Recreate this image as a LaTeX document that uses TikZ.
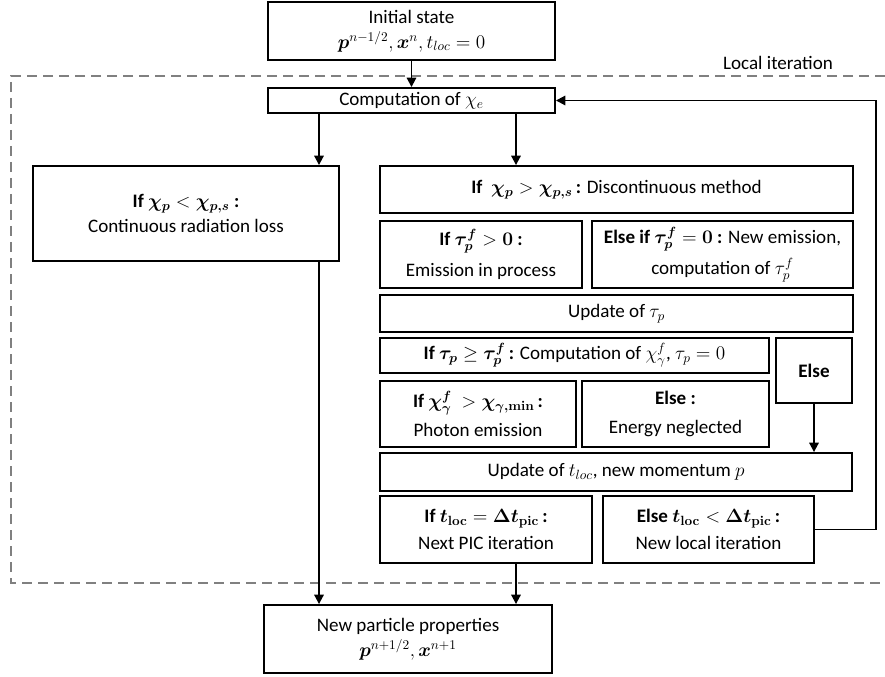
\documentclass[tikz,border=0pt]{standalone}
\usepackage{amsmath}
\usepackage{bm}
\usepackage{fontspec}
\setmainfont{Carlito}
\usetikzlibrary{arrows.meta,calc}

\begin{document}
\begin{tikzpicture}[
  x=0.75pt, y=-0.75pt,
  font=\fontsize{14.3}{18.5}\selectfont,
  box/.style={draw, line width=1.4pt, align=center, inner sep=1pt, fill=white},
  sz/.style 2 args={minimum width=#1*0.75pt, minimum height=#2*0.75pt},
  arr/.style={-{Triangle[length=7pt, width=7pt]}, line width=1.4pt},
  frame/.style={gray, line width=1.5pt, dash pattern=on 7.5pt off 4.5pt}]
  \useasboundingbox (0,0) rectangle (885,677);
  % local iteration frame
  \draw[frame] (885,76) -- (11,76) -- (11,583) -- (885,583);
  \node (loc) at (778,63) {Local iteration};
  \node[box, sz={287}{58}] (init) at (411.5,31) {Initial state\\$\bm{p}^{n-1/2},\bm{x}^n,t_{loc}=0$};
  \node[box, sz={287}{25}] (comp) at (411.5,100.5) {Computation of $\chi_e$};
  \node[box, sz={306}{95}] (cont) at (186,213.5) {\textbf{If} $\bm{\chi_p}<\bm{\chi_{p,s}}$ \textbf{:}\\Continuous radiation loss};
  \node[box, sz={473}{47}] (disc) at (616.5,189.5) {\textbf{If} \ $\bm{\chi_p}>\bm{\chi_{p,s}}$\,\textbf{:} Discontinuous method};
  \node[box, sz={202}{67}] (inproc) at (481,254.5) {\textbf{If} $\bm{\tau_p^f}>\bm{0}$ \textbf{:}\\[5pt]Emission in process};
  \node[box, sz={261}{67}] (newem) at (722.5,254.5) {\textbf{Else if} $\bm{\tau_p^f}=\bm{0}$ \textbf{:} New emission,\\[5pt]computation of $\tau_p^f$};
  \node[box, sz={473}{37}] (updtau) at (616.5,313.5) {Update of $\tau_p$};
  \node[box, sz={389}{35}] (iftau) at (574.5,355.5) {\textbf{If} $\bm{\tau_p}\geq\bm{\tau_p^f}$\,\textbf{:} Computation of $\chi_\gamma^f$, $\tau_p=0$};
  \node[box, sz={76}{65}] (els) at (814,370.5) {\textbf{Else}};
  \node[box, sz={196}{66}] (photon) at (478,414) {\textbf{If} $\bm{\chi_\gamma^f}\ >\bm{\chi_{\gamma,\mathbf{min}}}$\,\textbf{:}\\[3pt]Photon emission};
  \node[box, sz={187}{66}] (neglect) at (675.5,414) {\textbf{Else :}\\[3pt]Energy neglected};
  \node[box, sz={472}{38}] (updt) at (616,472) {Update of $t_{loc}$, new momentum $p$};
  \node[box, sz={212}{67}] (next) at (486,529.5) {\textbf{If} $\bm{t_{\mathbf{loc}}}=\bm{\Delta t_{\mathbf{pic}}}$\,\textbf{:}\\[2pt]Next PIC iteration};
  \node[box, sz={211}{67}] (newloc) at (708.5,529.5) {\textbf{Else} $\bm{t_{\mathbf{loc}}}<\bm{\Delta t_{\mathbf{pic}}}$\,\textbf{:}\\[2pt]New local iteration};
  \node[box, sz={288}{68}] (final) at (408,639) {New particle properties\\$\bm{p}^{n+1/2},\bm{x}^{n+1}$};
  % arrow columns
  \coordinate (lx) at (319,0);
  \coordinate (rx) at (516,0);
  \coordinate (bk) at (876,0);
  \draw[arr] (init) -- (comp);
  \draw[arr] (lx |- comp.south) -- (lx |- cont.north);
  \draw[arr] (rx |- comp.south) -- (rx |- disc.north);
  \draw[arr] (lx |- cont.south) -- (lx |- final.north);
  \draw[arr] (rx |- next.south) -- (rx |- final.north);
  \draw[arr] (els) -- (els |- updt.north);
  \draw[arr] (newloc.east) -- (newloc.east -| bk) -- (bk |- comp.east) -- (comp.east);
\end{tikzpicture}
\end{document}
